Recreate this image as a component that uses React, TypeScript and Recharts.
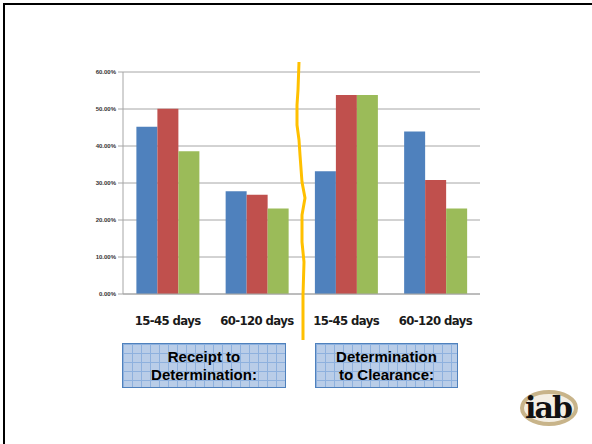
import React from 'react';
import { BarChart, Bar, XAxis, YAxis, CartesianGrid } from 'recharts';

const categories = ['15-45 days', '60-120 days', '15-45 days', '60-120 days'];
const blueValues = [45.2, 27.8, 33.2, 43.9];
const redValues = [50.1, 26.8, 53.8, 30.8];
const greenValues = [38.6, 23.1, 53.8, 23.1];
const yTicks = [0, 10, 20, 30, 40, 50, 60];
const boxLabels = [
  ['Receipt to', 'Determination:'],
  ['Determination', 'to Clearance:'],
];

const data = categories.map((c, i) => ({
  name: c,
  blue: blueValues[i],
  red: redValues[i],
  green: greenValues[i],
}));

const gridBox: React.CSSProperties = {
  position: 'absolute',
  top: 343,
  height: 45,
  boxSizing: 'border-box',
  border: '1.5px solid #4f81bd',
  backgroundColor: '#b9cde8',
  backgroundImage:
    'linear-gradient(#8eb1de 1px, transparent 1px), linear-gradient(90deg, #8eb1de 1px, transparent 1px)',
  backgroundSize: '9px 9px',
  display: 'flex',
  flexDirection: 'column',
  alignItems: 'center',
  justifyContent: 'center',
  fontFamily: 'Arial, "Liberation Sans", sans-serif',
  fontWeight: 'bold',
  fontSize: 15,
  lineHeight: '18px',
  color: '#000',
};

const App: React.FC = () => {
  return (
    <div style={{ position: 'absolute', left: 0, top: 0, width: 592, height: 444, background: '#fff', overflow: 'hidden' }}>
      {/* slide frame, only top and left edges show */}
      <div style={{ position: 'absolute', left: 3, top: 3, width: 600, height: 2, background: '#000' }} />
      <div style={{ position: 'absolute', left: 3, top: 3, width: 2, height: 450, background: '#000' }} />

      <div style={{ position: 'absolute', left: 0, top: 0 }}>
        <BarChart
          width={592}
          height={444}
          data={data}
          margin={{ top: 72, right: 112, left: 83, bottom: 120 }}
          barCategoryGap="15%"
          barGap={0}
        >
          <CartesianGrid horizontal vertical={false} stroke="#a6a6a6" strokeWidth={1} />
          <XAxis
            dataKey="name"
            height={30}
            stroke="#a6a6a6"
            tickLine={false}
            interval={0}
            tick={{
              fill: '#1a1a1a',
              fontSize: 13,
              fontWeight: 'bold',
              fontFamily: '"DejaVu Sans Condensed", "Liberation Sans Narrow", sans-serif',
              letterSpacing: -0.6,
              dy: 14,
            }}
          />
          <YAxis
            domain={[0, 60]}
            ticks={yTicks}
            width={40}
            stroke="#a6a6a6"
            tickSize={5}
            tickFormatter={(v: number) => `${v.toFixed(2)}%`}
            tick={{ fill: '#333', fontSize: 6, fontWeight: 'bold', fontFamily: 'Arial, sans-serif' }}
          />
          <Bar dataKey="blue" fill="#4f81bd" isAnimationActive={false} />
          <Bar dataKey="red" fill="#c0504d" isAnimationActive={false} />
          <Bar dataKey="green" fill="#9bbb59" isAnimationActive={false} />
        </BarChart>
      </div>

      {/* wavy divider */}
      <svg width={592} height={444} style={{ position: 'absolute', left: 0, top: 0, pointerEvents: 'none' }}>
        <polyline
          points="299,62 298,90 297,105 297,125 299,140 300,155 302,182 305,198 302,215 302,242 304,262 303,295 303,340"
          fill="none"
          stroke="#ffc000"
          strokeWidth={3}
          strokeLinejoin="round"
        />
        {/* logo */}
        <ellipse cx={549} cy={408} rx={27} ry={16} fill="#f4efe4" stroke="#c8b48a" strokeWidth={4} />
        <text x={548} y={418} textAnchor="middle" fontFamily="DejaVu Serif, serif" fontWeight="bold" fontSize={30} fill="#111" letterSpacing={-2}>
          iab
        </text>
      </svg>

      <div style={{ ...gridBox, left: 122, width: 164 }}>
        <span>{boxLabels[0][0]}</span>
        <span>{boxLabels[0][1]}</span>
      </div>
      <div style={{ ...gridBox, left: 315, width: 143 }}>
        <span>{boxLabels[1][0]}</span>
        <span>{boxLabels[1][1]}</span>
      </div>
    </div>
  );
};

export default App;
